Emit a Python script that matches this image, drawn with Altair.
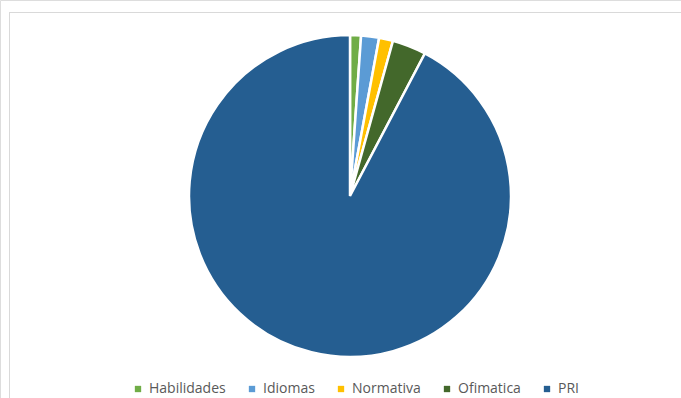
import altair as alt
import pandas as pd

categories = ["Habilidades", "Idiomas", "Normativa", "Ofimatica", "PRI"]
values = [1.1, 1.8, 1.4, 3.4, 92.3]
colors = ["#70AD47", "#5B9BD5", "#FFC000", "#43682B", "#255E91"]

df = pd.DataFrame({"cat": categories, "val": values, "ord": list(range(len(categories)))})

pie = alt.Chart(df).mark_arc(outerRadius=161, stroke="white", strokeWidth=2.5).encode(
    theta=alt.Theta("val:Q", stack=True),
    order=alt.Order("ord:Q"),
    x=alt.value(350),
    y=alt.value(196),
    color=alt.Color(
        "cat:N",
        sort=categories,
        scale=alt.Scale(domain=categories, range=colors),
        legend=alt.Legend(
            title=None,
            orient="none",
            legendX=131,
            legendY=382,
            direction="horizontal",
            symbolType="square",
            symbolSize=40,
            symbolStrokeWidth=0,
            labelFont="Open Sans",
            labelFontSize=14,
            labelColor="#595959",
            labelOffset=4,
            columnPadding=19,
        ),
    ),
)

frame_top = alt.Chart(df).mark_rule(color="#D9D9D9", strokeWidth=1).encode(
    x=alt.value(9.5), x2=alt.value(690), y=alt.value(12.5)
)
frame_left = alt.Chart(df).mark_rule(color="#D9D9D9", strokeWidth=1).encode(
    x=alt.value(9.5), y=alt.value(12.5), y2=alt.value(410)
)

chart = alt.layer(frame_top, frame_left, pie).properties(
    width=681, height=398, padding=0, autosize=alt.AutoSizeParams(type="none")
).configure_view(stroke=None).configure(background="white")

chart.save("out.html", embed_options={"renderer": "svg", "actions": False})
